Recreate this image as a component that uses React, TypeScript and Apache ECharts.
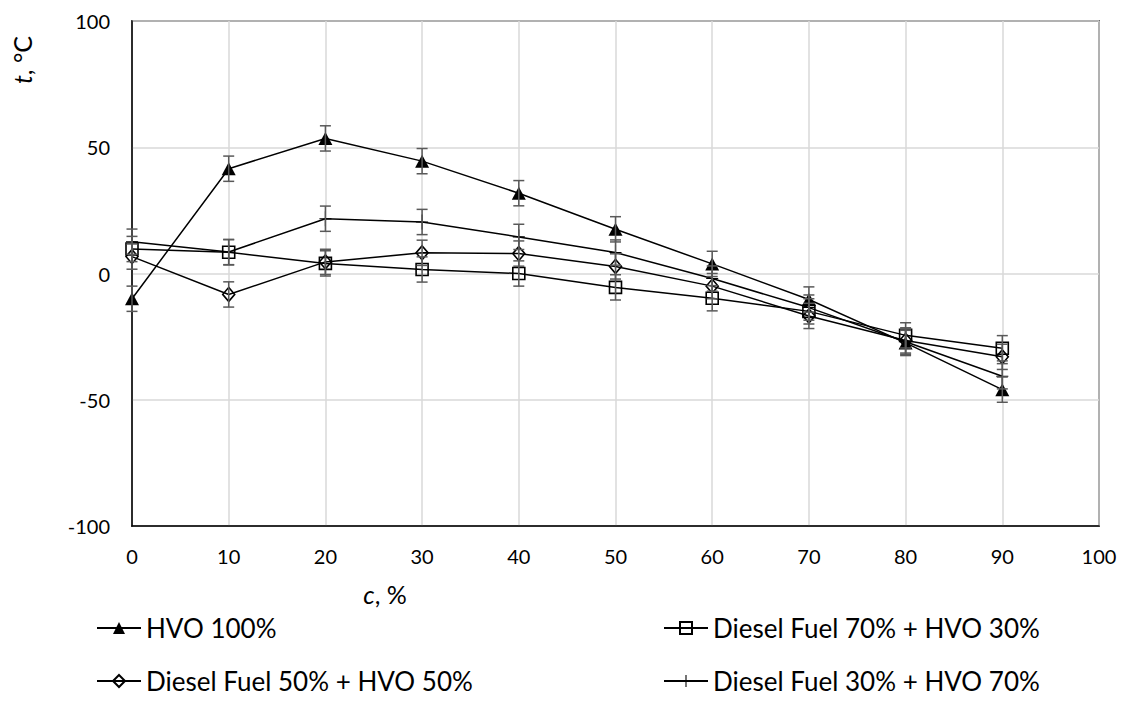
import React, { useEffect, useRef } from "react";
import * as echarts from "echarts";

const xValues = [0, 10, 20, 30, 40, 50, 60, 70, 80, 90];
const hvo100 = [-10, 41.5, 53.5, 44.5, 31.8, 17.5, 3.8, -10.3, -27.5, -46];
const df70hvo30 = [9.7, 8.4, 4, 1.6, 0, -5.5, -9.8, -15, -24.5, -29.6];
const df50hvo50 = [6.7, -8.3, 4.6, 8.2, 7.9, 2.8, -5, -16.8, -26.5, -33];
const df30hvo70 = [12.6, 8.5, 21.7, 20.4, 14.5, 8.3, -2, -13.5, -27, -40.7];
const errorMargin = 5;

const seriesNames = [
  "HVO 100%",
  "Diesel Fuel 70% + HVO 30%",
  "Diesel Fuel 50% + HVO 50%",
  "Diesel Fuel 30% + HVO 70%",
];
const xTicks = { min: 0, max: 100, interval: 10 };
const yTicks = { min: -100, max: 100, interval: 50 };

const FONT = "Lato, 'Open Sans', sans-serif";
const PLUS =
  "path://M-0.09,-1H0.09V-0.07H1V0.07H0.09V1H-0.09V0.07H-1V-0.07H-0.09Z";

function pairs(vals: number[]) {
  return xValues.map((x, i) => [x, vals[i]]);
}
function errData(vals: number[]) {
  return xValues.map((x, i) => [x, vals[i] - errorMargin, vals[i] + errorMargin]);
}

export default function App() {
  const ref = useRef<HTMLDivElement>(null);
  useEffect(() => {
    if (!ref.current) return;
    const chart = echarts.init(ref.current, null, { renderer: "svg" });
    const lineBase = (name: string, vals: number[], symbol: string, size: any, filled: boolean) => ({
      name,
      type: "line",
      data: pairs(vals),
      symbol,
      symbolSize: size,
      showSymbol: true,
      lineStyle: { color: "#000", width: 1.5 },
      itemStyle: filled
        ? { color: "#000", borderColor: "#000", borderWidth: 0 }
        : { color: "rgba(255,255,255,0)", borderColor: "#000", borderWidth: 1.6 },
      z: 3,
    });
    const errSeries = (vals: number[]) => ({
      type: "custom",
      data: errData(vals),
      encode: { x: 0, y: [1, 2] },
      z: 4,
      silent: true,
      renderItem: (params: any, api: any) => {
        const x = api.value(0);
        const lo = api.value(1);
        const hi = api.value(2);
        const p1 = api.coord([x, hi]);
        const p2 = api.coord([x, lo]);
        const w = 5.5;
        const st = { stroke: "#595959", lineWidth: 1.5 };
        return {
          type: "group",
          children: [
            { type: "line", shape: { x1: p1[0], y1: p1[1], x2: p2[0], y2: p2[1] }, style: st },
            { type: "line", shape: { x1: p1[0] - w, y1: p1[1], x2: p1[0] + w, y2: p1[1] }, style: st },
            { type: "line", shape: { x1: p2[0] - w, y1: p2[1], x2: p2[0] + w, y2: p2[1] }, style: st },
          ],
        };
      },
    });
    const legendBase = {
      itemWidth: 44,
      itemHeight: 15,
      itemGap: 5,
      textStyle: { fontFamily: FONT, fontSize: 26, color: "#000" },
      selectedMode: false,
    };
    chart.setOption({
      animation: false,
      backgroundColor: "#fff",
      textStyle: { fontFamily: FONT },
      grid: {
        left: 132,
        top: 21,
        width: 967,
        height: 505,
        show: true,
        borderColor: "#000",
        borderWidth: 1.5,
        backgroundColor: "transparent",
      },
      legend: [
        { ...legendBase, data: [seriesNames[0]], left: 91, top: 610 },
        { ...legendBase, data: [seriesNames[1]], left: 658, top: 610 },
        { ...legendBase, data: [seriesNames[2]], left: 91, top: 663 },
        { ...legendBase, data: [seriesNames[3]], left: 658, top: 663 },
      ],
      xAxis: {
        type: "value",
        ...xTicks,
        axisLine: { show: true, onZero: false, lineStyle: { color: "#000", width: 1.5 } },
        axisTick: { show: false },
        axisLabel: { color: "#000", fontSize: 20, margin: 20, fontFamily: FONT },
        splitLine: { show: true, lineStyle: { color: "#d9d9d9", width: 1.5 } },
      },
      yAxis: {
        type: "value",
        ...yTicks,
        axisLine: { show: true, lineStyle: { color: "#000", width: 1.5 } },
        axisTick: { show: false },
        axisLabel: { color: "#000", fontSize: 20, margin: 22, fontFamily: FONT },
        splitLine: { show: true, lineStyle: { color: "#d9d9d9", width: 1.5 } },
      },
      graphic: [
        {
          type: "text",
          x: 22,
          y: 60,
          rotation: Math.PI / 2,
          style: {
            text: "{i|t}, °C",
            rich: { i: { fontStyle: "italic", fontSize: 25, fontFamily: FONT } },
            fontSize: 25,
            fontFamily: FONT,
            fill: "#000",
            align: "center",
            verticalAlign: "middle",
          },
        },
        {
          type: "text",
          x: 385,
          y: 594,
          style: {
            text: "{i|c}, %",
            rich: { i: { fontStyle: "italic", fontSize: 25, fontFamily: FONT } },
            fontSize: 25,
            fontFamily: FONT,
            fill: "#000",
            align: "center",
            verticalAlign: "middle",
          },
        },
      ],
      series: [
        lineBase(seriesNames[0], hvo100, "triangle", [14, 13], true),
        lineBase(seriesNames[1], df70hvo30, "rect", [12, 12], false),
        lineBase(seriesNames[2], df50hvo50, "diamond", [12, 14], false),
        lineBase(seriesNames[3], df30hvo70, PLUS, [12, 15], true),
        errSeries(hvo100),
        errSeries(df70hvo30),
        errSeries(df50hvo50),
        errSeries(df30hvo70),
      ],
    });
    return () => chart.dispose();
  }, []);
  return (
    <div
      ref={ref}
      style={{ position: "absolute", left: 0, top: 0, width: 1121, height: 722 }}
    />
  );
}
